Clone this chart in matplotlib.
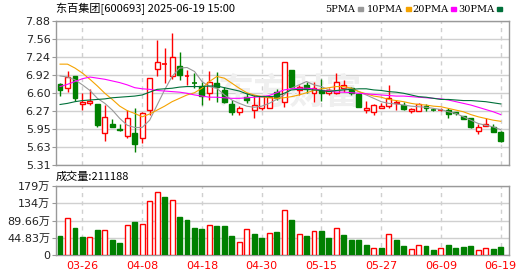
import numpy as np
import matplotlib.pyplot as plt
from matplotlib.ticker import FixedLocator

# trading days shown (index 0 .. 59)
dates = ['03-21', '03-24', '03-25', '03-26', '03-27', '03-28', '03-31',
         '04-01', '04-02', '04-03', '04-07', '04-08', '04-09', '04-10', '04-11',
         '04-14', '04-15', '04-16', '04-17', '04-18', '04-21', '04-22', '04-23',
         '04-24', '04-25', '04-28', '04-29', '04-30', '05-06', '05-07', '05-08',
         '05-09', '05-12', '05-13', '05-14', '05-15', '05-16', '05-19', '05-20',
         '05-21', '05-22', '05-23', '05-26', '05-27', '05-28', '05-29', '05-30',
         '06-03', '06-04', '06-05', '06-06', '06-09', '06-10', '06-11', '06-12',
         '06-13', '06-16', '06-17', '06-18', '06-19']
date_labels = ['03-26', '04-08', '04-18', '04-30', '05-15', '05-27', '06-09', '06-19']

opens = [6.76, 6.68, 6.90, 6.39, 6.41, 6.40, 5.89, 6.04, 5.95, 5.82,
         5.88, 5.80, 6.29, 7.02, 7.10, 6.89, 7.08, 6.89, 6.78, 6.72,
         6.60, 6.77, 6.65, 6.40, 6.26, 6.53, 6.30, 6.32, 6.33, 6.62,
         6.43, 7.01, 6.65, 6.74, 6.59, 6.65, 6.59, 6.60, 6.68, 6.69,
         6.58, 6.30, 6.26, 6.33, 6.36, 6.41, 6.38, 6.27, 6.28, 6.36,
         6.30, 6.29, 6.30, 6.25, 6.19, 6.15, 5.92, 6.01, 5.98, 5.90]
highs = [6.78, 6.98, 6.90, 6.60, 6.66, 6.40, 6.38, 6.13, 6.04, 6.30,
         6.32, 6.26, 6.86, 7.54, 7.39, 7.66, 7.32, 7.01, 6.95, 6.80,
         6.99, 6.97, 6.71, 6.47, 6.36, 6.59, 6.56, 6.55, 6.56, 6.67,
         7.15, 7.01, 6.74, 6.80, 6.80, 6.84, 6.68, 6.95, 6.83, 6.71,
         6.58, 6.45, 6.39, 6.42, 6.74, 6.47, 6.44, 6.33, 6.41, 6.40,
         6.32, 6.33, 6.32, 6.26, 6.19, 6.15, 6.04, 6.14, 6.05, 5.91]
lows = [6.55, 6.62, 6.45, 6.30, 6.38, 5.99, 5.74, 5.98, 5.92, 5.80,
        5.54, 5.70, 6.20, 6.89, 6.78, 6.84, 6.82, 6.74, 6.68, 6.38,
        6.47, 6.43, 6.41, 6.20, 6.20, 6.42, 6.15, 6.30, 6.32, 6.47,
        6.35, 6.68, 6.56, 6.60, 6.44, 6.45, 6.56, 6.58, 6.62, 6.56,
        6.34, 6.24, 6.20, 6.32, 6.32, 6.30, 6.30, 6.23, 6.27, 6.28,
        6.28, 6.27, 6.15, 6.20, 6.13, 5.97, 5.86, 6.01, 5.90, 5.72]
closes = [6.64, 6.88, 6.51, 6.43, 6.45, 6.02, 6.16, 5.99, 5.93, 6.14,
          5.68, 6.23, 6.86, 7.14, 7.11, 7.23, 6.91, 6.90, 6.77, 6.54,
          6.80, 6.70, 6.44, 6.25, 6.32, 6.47, 6.38, 6.54, 6.53, 6.50,
          7.14, 6.71, 6.71, 6.66, 6.69, 6.59, 6.65, 6.79, 6.74, 6.59,
          6.35, 6.32, 6.38, 6.37, 6.51, 6.44, 6.31, 6.31, 6.39, 6.32,
          6.29, 6.30, 6.22, 6.23, 6.13, 5.98, 5.98, 6.05, 5.90, 5.73]

# volume in 万 shares, and colour of each volume bar (True = red)
volumes = [49.2, 95.0, 70.0, 46.6, 45.8, 64.8, 64.0, 38.9, 31.9, 76.9,
           85.5, 80.3, 140.0, 165.0, 150.0, 144.0, 98.4, 90.7, 70.0, 67.4,
           76.9, 75.1, 75.1, 49.2, 33.7, 66.5, 54.4, 44.0, 56.2, 59.6,
           116.0, 90.7, 54.4, 49.2, 61.4, 62.2, 44.0, 69.1, 51.8, 38.9,
           38.9, 25.9, 17.3, 18.1, 54.4, 38.9, 23.3, 14.7, 25.0, 23.3,
           13.0, 17.3, 25.9, 18.1, 20.7, 23.3, 12.1, 17.3, 15.5, 21.1188]
vol_up = [0, 1, 0, 0, 1, 0, 1, 0, 0, 1,
          0, 1, 1, 1, 0, 1, 0, 0, 0, 0,
          1, 0, 0, 0, 1, 1, 0, 0, 1, 0,
          1, 0, 1, 0, 1, 0, 0, 1, 0, 0,
          0, 0, 1, 0, 1, 0, 0, 1, 1, 0,
          0, 1, 0, 0, 0, 0, 1, 1, 0, 0]

# moving averages
ma5 = [6.90, 6.88, 6.83, 6.74, 6.64, 6.50, 6.41, 6.29, 6.14, 6.02,
       5.98, 5.98, 6.11, 6.38, 6.65, 6.89, 7.04, 7.05, 6.98, 6.80,
       6.71, 6.68, 6.56, 6.47, 6.41, 6.36, 6.34, 6.36, 6.41, 6.48,
       6.56, 6.68, 6.74, 6.80, 6.74, 6.71, 6.65, 6.63, 6.66, 6.68,
       6.62, 6.56, 6.50, 6.44, 6.41, 6.40, 6.38, 6.36, 6.35, 6.34,
       6.32, 6.30, 6.26, 6.23, 6.17, 6.11, 6.05, 6.02, 5.99, 5.94]
ma10 = [7.11, 7.11, 7.04, 6.95, 6.84, 6.72, 6.59, 6.48, 6.36, 6.28,
        6.23, 6.17, 6.22, 6.29, 6.36, 6.44, 6.50, 6.56, 6.60, 6.68,
        6.80, 6.89, 6.86, 6.77, 6.68, 6.60, 6.56, 6.53, 6.51, 6.50,
        6.51, 6.53, 6.56, 6.60, 6.64, 6.67, 6.69, 6.71, 6.71, 6.68,
        6.62, 6.58, 6.54, 6.52, 6.48, 6.46, 6.44, 6.41, 6.39, 6.38,
        6.36, 6.35, 6.32, 6.29, 6.26, 6.21, 6.17, 6.14, 6.11, 6.09]
ma20 = [6.71, 6.75, 6.80, 6.85, 6.88, 6.86, 6.84, 6.81, 6.78, 6.74,
        6.69, 6.67, 6.66, 6.64, 6.63, 6.62, 6.61, 6.59, 6.56, 6.54,
        6.52, 6.52, 6.51, 6.50, 6.50, 6.51, 6.52, 6.53, 6.55, 6.60,
        6.65, 6.67, 6.68, 6.68, 6.67, 6.64, 6.63, 6.61, 6.61, 6.60,
        6.59, 6.58, 6.57, 6.56, 6.55, 6.54, 6.54, 6.53, 6.52, 6.51,
        6.50, 6.49, 6.47, 6.44, 6.41, 6.38, 6.34, 6.30, 6.26, 6.21]
ma30 = [6.39, 6.41, 6.44, 6.46, 6.47, 6.48, 6.49, 6.51, 6.52, 6.53,
        6.54, 6.56, 6.61, 6.66, 6.67, 6.68, 6.70, 6.71, 6.71, 6.71,
        6.72, 6.72, 6.69, 6.66, 6.63, 6.58, 6.54, 6.53, 6.53, 6.54,
        6.59, 6.65, 6.66, 6.66, 6.65, 6.64, 6.62, 6.64, 6.65, 6.66,
        6.67, 6.67, 6.65, 6.64, 6.62, 6.61, 6.59, 6.56, 6.53, 6.52,
        6.50, 6.48, 6.48, 6.47, 6.46, 6.46, 6.45, 6.44, 6.42, 6.40]

price_ticks = ['5.31', '5.63', '5.95', '6.27', '6.60', '6.92', '7.24', '7.56', '7.88']
vol_ticks = ['0', '44.83万', '89.66万', '134万', '179万']

RED = '#ff0000'
GREEN = '#008000'
GRID = '#d0d0d0'
FRAME = '#999999'
CJK = ['DejaVu Sans', 'Noto Sans CJK SC']

fig = plt.figure(figsize=(5.3, 2.76), dpi=100)
ax = fig.add_axes([56 / 530, 1 - 165 / 276, 453 / 530, 144 / 276])
axv = fig.add_axes([56 / 530, 1 - 255 / 276, 453 / 530, 69 / 276])

x = np.arange(len(dates))
tick_pos = [dates.index(d) for d in date_labels]
w = 0.66

# ---- price panel ----
for i in x:
    o, h, l, c = opens[i], highs[i], lows[i], closes[i]
    up = c >= o
    col = RED if up else GREEN
    ax.vlines(i, l, h, color=col, lw=1, zorder=2)
    if abs(c - o) < 0.012:
        ax.hlines((o + c) / 2, i - w / 2, i + w / 2, color=col, lw=1.2, zorder=3)
    else:
        ax.bar(i, abs(c - o), bottom=min(o, c), width=w,
               facecolor='white' if up else GREEN, edgecolor=col, lw=1, zorder=3)

ax.plot(x, ma5, color='#999999', lw=0.8, zorder=4)
ax.plot(x, ma10, color='#f5a300', lw=0.8, zorder=4)
ax.plot(x, ma20, color='#ff00ff', lw=0.8, zorder=4)
ax.plot(x, ma30, color='#00703a', lw=0.8, zorder=4)

ymin, ymax = float(price_ticks[0]), float(price_ticks[-1])
ax.set_ylim(ymin, ymax)
ax.set_xlim(-0.54, len(dates) - 1 + 1.11)
ax.yaxis.set_major_locator(FixedLocator(np.linspace(ymin, ymax, len(price_ticks))))
ax.set_yticklabels(price_ticks)
ax.set_xticks(tick_pos)
ax.set_xticklabels([])
ax.grid(axis='y', color=GRID, lw=1, ls='-')
ax.grid(axis='x', color=GRID, lw=1, ls=(0, (3, 3)))
ax.set_axisbelow(True)
ax.text(0.517, 0.5, '东方财富', transform=ax.transAxes, ha='center', va='center',
        fontsize=26, fontweight='bold', color='#efefef', family='Noto Sans CJK SC',
        zorder=1)

# ---- volume panel ----
vmax = 4 * 44.83
for i in x:
    if vol_up[i]:
        axv.bar(i, volumes[i], width=w, facecolor='white', edgecolor=RED, lw=1, zorder=3)
    else:
        axv.bar(i, volumes[i], width=w, facecolor=GREEN, edgecolor=GREEN, lw=1, zorder=3)
axv.set_ylim(0, vmax)
axv.set_xlim(ax.get_xlim())
axv.yaxis.set_major_locator(FixedLocator(np.linspace(0, vmax, len(vol_ticks))))
axv.set_yticklabels(vol_ticks, family=CJK)
axv.set_xticks(tick_pos)
axv.set_xticklabels(date_labels, color=RED, fontsize=8)
axv.grid(axis='y', color=GRID, lw=1, ls='-')
axv.grid(axis='x', color=GRID, lw=1, ls=(0, (3, 3)))
axv.set_axisbelow(True)

for a in (ax, axv):
    for s in a.spines.values():
        s.set_color(FRAME)
        s.set_linewidth(1)
    a.tick_params(axis='y', length=3, width=0.8, color=FRAME, pad=1, labelsize=8,
                  labelcolor='#222222')
    a.tick_params(axis='x', length=0, pad=4)

# ---- texts ----
fig.text(56 / 530, 1 - 9 / 276, '东百集团[600693] 2025-06-19 15:00', fontsize=8,
         family='Noto Sans CJK SC', va='center', ha='left')
fig.text(56 / 530, 1 - 177 / 276, '成交量:211188', fontsize=8,
         family='Noto Sans CJK SC', va='center', ha='left')
legend = [('5PMA', '#999999', 325), ('10PMA', '#f5a300', 367),
          ('20PMA', '#ff00ff', 412), ('30PMA', '#00703a', 458)]
for name, col, px in legend:
    t = fig.text(px / 530, 1 - 9 / 276, name, fontsize=7, family='DejaVu Serif',
                 va='center', ha='left')
    fig.canvas.draw()
    bb = t.get_window_extent()
    fig.patches.append(plt.Rectangle(((bb.x1 + 3) / 530, 1 - 11 / 276), 5 / 530, 4 / 276,
                                     transform=fig.transFigure, color=col, figure=fig))

fig.savefig('out.png', dpi=100)
